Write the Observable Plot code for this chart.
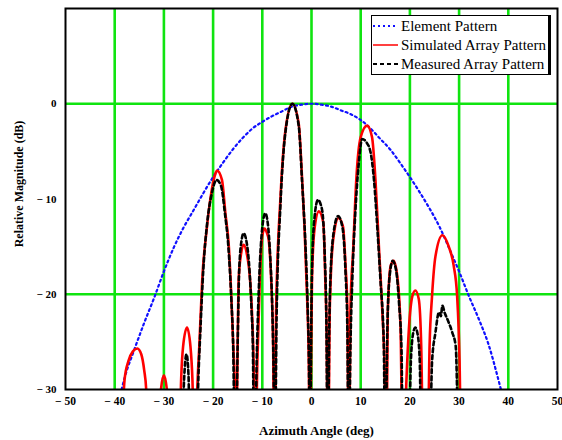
<!DOCTYPE html>
<html><head><meta charset="utf-8">
<script src="https://cdn.jsdelivr.net/npm/d3@7"></script>
<script src="https://cdn.jsdelivr.net/npm/@observablehq/plot@0.6"></script>
<style>
body{margin:0;background:#fff;}
#wrap{position:relative;width:562px;height:440px;}
#legend{position:absolute;left:371px;top:15px;width:176px;height:58px;border:1.5px solid #000;border-right:3px solid #000;background:#fff;overflow:hidden;font-family:"Liberation Serif","Times New Roman",Times,"DejaVu Serif",serif;font-size:15px;color:#000;}
.row{position:absolute;left:0;height:18px;display:flex;align-items:center;white-space:nowrap;}
.row svg{margin-right:2px;}
</style></head>
<body><div id="wrap"></div>
<script>
// ---- data ----
const xTicks = [-50, -40, -30, -20, -10, 0, 10, 20, 30, 40, 50];
const yTicks = [0, -10, -20, -30];
const gridX = [-40, -30, -20, -10, 0, 10, 20, 30, 40];
const gridY = [0, -20];
const seriesNames = ["Element Pattern", "Simulated Array Pattern", "Measured Array Pattern"];
const xLabel = "Azimuth Angle (deg)";
const yLabel = "Relative Magnitude (dB)";

const elementAngle = [-38.6,-38,-36,-34,-32,-30,-28,-26,-24,-22,-20,-18,-16,-14,-12,-10,-8,-6,-4,-2,0,2,4,6,8,10,12,14,16,18,20,22,24,26,28,30,32,34,36,38,38.5];
const elementDb = [-30,-28.8,-25.8,-23.0,-20.4,-17.6,-15.1,-13.0,-11.2,-9.4,-7.7,-6.2,-4.8,-3.6,-2.6,-1.9,-1.3,-0.8,-0.3,-0.1,0,-0.1,-0.3,-0.7,-1.1,-1.7,-2.6,-3.7,-4.8,-6.2,-7.7,-9.3,-11.0,-12.9,-15.2,-17.6,-20.2,-22.6,-25.3,-29.0,-30];

const simAngle = [
 -38.8,-38.0,-37.2,-36.3,-35.4,-34.6,-34.0,-33.6,-33.2,
 -31.1,-30.6,-30.0,-29.4,-29.0,
 -27.0,-26.5,-26.1,-25.3,-24.6,-24.2,-23.7,
 -23.2,-22.8,-22.2,-21.3,-20.5,-19.5,-19.2,-18.2,-17.5,-16.8,-16.3,-15.9,-15.6,-15.4,
 -15.0,-14.8,-14.3,-13.8,-13.2,-12.5,-12.1,-11.7,-11.5,
 -11.0,-10.5,-10.0,-9.55,-9.1,-8.7,-8.2,-7.8,-7.5,
 -7.2,-6.3,-5.3,-3.9,-2.6,-1.9,-1.4,-0.9,-0.55,-0.3,
 -0.1,0.1,0.6,1.5,2.4,2.8,3.1,3.35,
 3.7,3.9,4.5,5.5,6.4,6.9,7.3,7.6,
 7.9,8.5,9.1,10.0,11.3,12.3,13.0,13.7,14.4,14.9,15.2,
 15.5,16.1,16.7,17.5,18.1,18.6,
 19.3,19.8,20.5,21.1,21.8,22.3,22.8,
 23.5,24.0,24.5,25.2,26.6,27.9,28.9,29.6,30.1,30.5];
const simDb = [
 -40,-29,-27,-26,-25.7,-26.3,-28,-30,-40,
 -40,-30,-28.5,-30,-40,
 -40,-29,-25.5,-23.5,-25.5,-29,-40,
 -29.7,-25.4,-18.4,-13.2,-9.8,-7.3,-7.0,-8.0,-11.5,-15.0,-20.2,-25.4,-29.7,-40,
 -25,-18.4,-15.7,-14.8,-15.6,-18.4,-21.9,-29,-40,
 -27,-18.4,-13.9,-13.1,-13.5,-14.3,-18.4,-25.4,-40,
 -21.9,-9.8,-2.8,0,-2.1,-8.0,-13.2,-20.2,-27.1,-40,
 -28,-18.4,-13.2,-11.3,-12.5,-18.4,-25,-40,
 -22,-18.4,-13.9,-12.0,-12.9,-16.8,-21.9,-40,
 -21.9,-15.0,-8.0,-3.5,-2.3,-3.5,-8.0,-15.0,-21.9,-28.8,-40,
 -21.9,-17.0,-16.5,-18.4,-23.6,-40,
 -29,-23.6,-20.2,-19.6,-20.5,-25.4,-40,
 -40,-25.4,-20.2,-16.0,-13.8,-15.0,-17.0,-20.2,-27.1,-40];

const measAngle = [
 -26.4,-25.9,-25.4,-25.0,-24.6,
 -23.5,-23.0,-22.6,-22.0,-21.2,-20.3,-19.3,-18.4,-17.6,-16.9,-16.3,-15.9,-15.5,
 -15.0,-14.7,-14.2,-13.8,-13.2,-12.6,-12.2,-11.9,-11.65,
 -11.1,-10.6,-10.0,-9.4,-8.9,-8.4,-8.0,-7.7,-7.45,
 -7.1,-6.3,-5.3,-3.9,-2.6,-1.9,-1.3,-0.8,-0.5,-0.3,
 -0.1,0.1,0.6,1.3,2.1,2.7,3.05,3.3,
 3.6,3.8,4.5,5.4,6.3,6.9,7.3,7.55,
 7.9,8.3,8.9,9.6,10.3,11.1,12.0,12.7,13.4,14.0,14.7,15.0,
 15.4,15.9,16.5,17.2,17.8,18.3,18.6,
 19.6,20.2,20.7,21.1,21.6,22.0,22.4,
 23.9,24.5,25.2,25.9,26.3,26.6,27.1,27.6,28.6,29.3,29.9];
const measDb = [
 -40,-29,-26.3,-28.5,-40,
 -40,-29,-24,-17.5,-12.5,-9.5,-8.0,-8.6,-11.5,-15.0,-20.5,-26,-40,
 -25,-17.5,-14.3,-13.6,-14.5,-17.5,-21.5,-26,-40,
 -26,-18,-13,-11.5,-12.5,-16,-21,-28,-40,
 -22.5,-10.5,-3.0,0,-2.3,-8.3,-14,-21,-28,-40,
 -26,-17.5,-12,-10.1,-11,-16,-24,-40,
 -24,-19,-13.5,-11.8,-13,-17.5,-24,-40,
 -26,-18.4,-11.5,-6.3,-3.7,-4.0,-5.1,-8.0,-13.2,-18.4,-25.4,-40,
 -24,-18,-16.5,-17.5,-21,-26,-40,
 -40,-27,-24,-23.5,-24.3,-27,-40,
 -40,-27.1,-24.0,-21.9,-22.3,-21.2,-22.0,-22.6,-24.0,-25.4,-40];

// ---- build ----
const toRows = (a, b) => a.map((x, i) => ({x, y: b[i]}));
const element = toRows(elementAngle, elementDb);
const sim = toRows(simAngle, simDb);
const meas = toRows(measAngle, measDb);

const serif = '"Liberation Serif","Times New Roman",Times,"DejaVu Serif",serif';
const green = "#10e410";
const fmt = d => d === 0 ? "0" : (d < 0 ? "\u2212 " + (-d) : String(d));

const chart = Plot.plot({
  width: 562, height: 440,
  marginLeft: 65, marginRight: 5, marginTop: 8, marginBottom: 51,
  x: {domain: [-50, 50]},
  y: {domain: [-30, 10]},
  style: {fontFamily: serif, fontWeight: "bold", fontSize: "11px", background: "white", color: "black"},
  marks: [
    Plot.ruleX(gridX, {stroke: green, strokeWidth: 2.6}),
    Plot.ruleY(gridY, {stroke: green, strokeWidth: 2.6}),
    Plot.line(element, {x: "x", y: "y", stroke: "#1010ff", strokeWidth: 2.2, strokeDasharray: "2,3.2", curve: "monotone-x", clip: true}),
    Plot.line(sim, {x: "x", y: "y", stroke: "#ff0000", strokeWidth: 2.6, curve: "monotone-x", clip: true}),
    Plot.line(meas, {x: "x", y: "y", stroke: "#000", strokeWidth: 2.6, strokeDasharray: "4,3", curve: "monotone-x", clip: true}),
    Plot.frame({stroke: "black", strokeWidth: 2}),
    Plot.axisX(xTicks, {tickSize: 0, tickPadding: 7, tickFormat: fmt, label: null, fontWeight: "bold", fontFamily: serif, fontSize: 11.5}),
    Plot.axisY(yTicks, {tickSize: 0, tickPadding: 9, tickFormat: fmt, label: null, fontWeight: "bold", fontFamily: serif, fontSize: 11}),
    Plot.text([xLabel], {text: d => d, frameAnchor: "bottom", textAnchor: "middle", dy: 45, dx: 5, fontSize: 13, fontWeight: "bold", fontFamily: serif}),
    Plot.text([yLabel], {text: d => d, frameAnchor: "left", textAnchor: "middle", dx: -46, dy: -15, rotate: -90, fontSize: 12, fontWeight: "bold", fontFamily: serif})
  ]
});
const wrap = document.getElementById("wrap");
wrap.appendChild(chart);

// legend (HTML overlay)
const legendStyles = [
  {stroke: "#1010ff", dash: "2,3", width: 2},
  {stroke: "#ff0000", dash: null, width: 1.5},
  {stroke: "#000", dash: "4,3", width: 2}
];
const legend = document.createElement("div");
legend.id = "legend";
seriesNames.forEach((name, i) => {
  const row = document.createElement("div");
  row.className = "row";
  row.style.top = (1 + i * 19) + "px";
  const s = legendStyles[i];
  row.innerHTML = `<svg width="27" height="10"><line x1="1" y1="5" x2="26" y2="5" stroke="${s.stroke}" stroke-width="${s.width}" ${s.dash ? `stroke-dasharray="${s.dash}"` : ""}/></svg><span>${name}</span>`;
  legend.appendChild(row);
});
wrap.appendChild(legend);
</script>
</body></html>
